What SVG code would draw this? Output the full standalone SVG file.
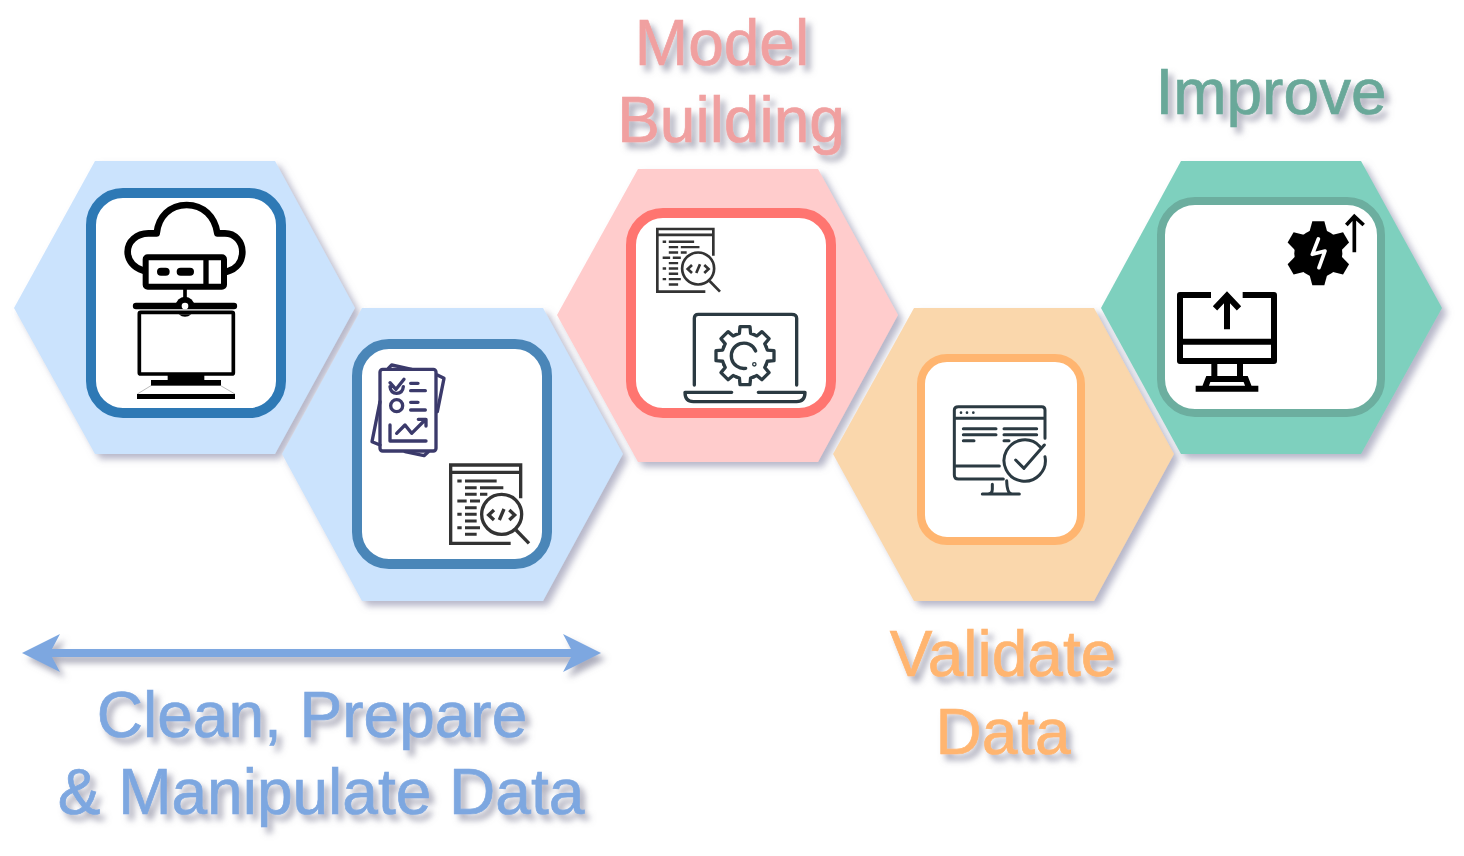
<svg xmlns="http://www.w3.org/2000/svg" xmlns:xlink="http://www.w3.org/1999/xlink" width="1464" height="856" viewBox="0 0 1464 856">
<style>
.hex{filter:url(#hs)}
.card{fill:#fff}
.lbl{font-family:"Liberation Sans",Arial,Helvetica,sans-serif;font-size:64px;text-anchor:middle;filter:url(#ts);stroke-width:.7px}
.ln{fill:none;stroke-linecap:round;stroke-linejoin:round}
.code{fill:none;stroke:#333;stroke-width:9}
</style>
<defs>
<filter id="hs" x="-10%" y="-10%" width="125%" height="125%"><feDropShadow dx="5" dy="5" stdDeviation="3.5" flood-color="#7c7c9c" flood-opacity=".55"/></filter>
<filter id="ts" x="-10%" y="-20%" width="125%" height="150%"><feDropShadow dx="5" dy="6" stdDeviation="3" flood-color="#77778f" flood-opacity=".6"/></filter>
<g id="codeIcon" class="code">
<path d="M482,610H302V375H512V475M302,397H512" stroke-width="10"/>
<path d="M322,423H335M345,423H440M345,443H380M390,443H460M345,463H380M390,463H412M322,483H350M360,483H390M345,503H380M322,523H335M345,523H380M345,543H380M322,563H335M345,563H390M345,583H380"/>
<circle cx="455" cy="523" r="60" fill="#fff" stroke-width="10"/>
<path d="M498,570L537,610" stroke-width="10"/>
<path d="M432,510L416,525L432,540M462,507L448,540M478,510L494,525L478,540" stroke-width="10"/>
</g>
<path id="tooth" d="M-8.8,-21.2L-5.6,-22.3L-5,-29H5L5.6,-22.3L8.8,-21.2"/>
</defs>

<g id="node-clean">
<polygon class="hex" fill="#cbe3fd" points="14,308 95,161 275,161 355,308 275,454 95,454"/>
<rect class="card" x="91" y="193" width="190" height="220" rx="32" stroke="#2e79b5" stroke-width="10"/>
<g transform="translate(80,180) scale(.33333)">
<path class="ln" stroke="#000" stroke-width="20" d="M190,272C160,262 143,240 143,215C143,185 170,160 205,160H230C235,110 270,75 320,75C370,75 405,110 412,160H435C465,160 487,185 487,215C487,245 470,268 440,275"/>
<rect x="197" y="232" width="235" height="88" rx="6" fill="#fff" stroke="#000" stroke-width="18"/>
<path stroke="#000" stroke-width="16" d="M378,232V320"/>
<path class="ln" stroke="#000" stroke-width="24" d="M243,275H257M302,275H330"/>
<path stroke="#000" stroke-width="11" d="M315,320V370"/>
<path d="M287,378A28,28 0 0 1 343,378Z" fill="#000"/>
<path class="ln" stroke="#000" stroke-width="19" d="M168,378H462"/>
<circle cx="315" cy="378" r="10" fill="#fff"/>
<rect x="178" y="397" width="282" height="185" rx="4" fill="#fff" stroke="#000" stroke-width="11"/>
<path d="M296,403Q315,418 334,403Z" fill="#000"/>
<rect x="263" y="582" width="110" height="20"/>
<rect x="213" y="600" width="210" height="17"/>
<path fill="none" stroke="#999" stroke-width="2" d="M213,617L172,642M422,617L465,642"/>
<rect x="171" y="642" width="294" height="15"/>
</g>
</g>

<g id="node-prepare">
<polygon class="hex" fill="#cbe3fd" points="282,454 362,308 543,308 623,454 543,601 362,601"/>
<rect class="card" x="357" y="344" width="190" height="220" rx="32" stroke="#4a86b8" stroke-width="10"/>
<g transform="translate(350,340) scale(.33333)">
<g class="ln" stroke="#3b3a6b" stroke-width="10">
<path d="M115,85L125,75L185,88M262,105L282,115L262,215M90,185L66,305L90,315M165,335L222,347L235,335"/>
<rect x="90" y="88" width="168" height="245" rx="8"/>
<path d="M120,128L138,148L162,118M120,140Q122,160 140,160Q158,160 160,140M182,130H204M182,152H226M182,187H204M182,210H226"/>
<circle cx="140" cy="197" r="18"/>
<path d="M120,255V303H228M140,280L165,255L185,280L225,240M205,238H228V258"/>
</g>
<use href="#codeIcon"/>
</g>
</g>

<g id="node-model">
<polygon class="hex" fill="#ffcccc" points="557,315 638,169 818,169 898,315 818,462 638,462"/>
<rect class="card" x="631" y="213" width="200" height="200" rx="32" stroke="#ff7570" stroke-width="10"/>
<g transform="translate(625,205) scale(.33333)">
<use href="#codeIcon" transform="translate(97,72) scale(.8) translate(-302,-375)"/>
<g class="ln" stroke="#2b3a42" stroke-width="10">
<path d="M208,540V340Q208,328 220,328H500Q515,328 515,340V540"/>
<path d="M320,562H180Q180,590 205,590H515Q540,590 540,562H400"/>
<g transform="translate(360,452) scale(3)" stroke-width="3.3">
<use href="#tooth"/><use href="#tooth" transform="rotate(45)"/><use href="#tooth" transform="rotate(90)"/><use href="#tooth" transform="rotate(135)"/><use href="#tooth" transform="rotate(180)"/><use href="#tooth" transform="rotate(225)"/><use href="#tooth" transform="rotate(270)"/><use href="#tooth" transform="rotate(315)"/>
</g>
<path d="M392,438A38,38 0 1 0 362,490"/>
<circle cx="388" cy="478" r="2"/>
</g>
</g>
</g>

<g id="node-validate">
<polygon class="hex" fill="#fad7ac" points="833,454 914,308 1094,308 1174,454 1094,601 914,601"/>
<rect class="card" x="921" y="358" width="160" height="183" rx="26" stroke="#ffb570" stroke-width="8"/>
<g transform="translate(915,350) scale(.33333)">
<g class="ln" stroke="#2b3a42" stroke-width="9">
<path d="M390,265V180Q390,170 380,170H130Q118,170 118,180V375Q118,387 130,387H265M118,205H390"/>
<path d="M145,236H243M267,236H365M145,254H243M267,254H365M145,272H177M267,272H282M122,348H253"/>
<path d="M375,290A62,62 0 1 0 390,320"/>
<path d="M302,330L327,355L388,285"/>
<path d="M232,403V418Q232,432 218,432M202,432H313M275,392Q276,432 292,432"/>
</g>
<circle cx="138" cy="188" r="4" fill="#2b3a42"/><circle cx="156" cy="188" r="4" fill="#2b3a42"/><circle cx="175" cy="188" r="4" fill="#2b3a42"/>
</g>
</g>

<g id="node-improve">
<polygon class="hex" fill="#7ed0be" points="1101,308 1181,161 1361,161 1442,308 1361,454 1181,454"/>
<rect class="card" x="1161" y="201" width="220" height="212" rx="34" stroke="#6cae9f" stroke-width="8"/>
<g transform="translate(1155,195) scale(.33333)">
<g transform="translate(490,175) scale(3)">
<circle r="24"/>
<path id="cog" d="M-9,-21L-6,-32H6L9,-21Z"/><use href="#cog" transform="rotate(60)"/><use href="#cog" transform="rotate(120)"/><use href="#cog" transform="rotate(180)"/><use href="#cog" transform="rotate(240)"/><use href="#cog" transform="rotate(300)"/>
</g>
<path class="ln" stroke="#fff" stroke-width="11" d="M490,132L472,178L510,168L492,218"/>
<path fill="none" stroke="#000" stroke-width="11" d="M598,172V62M574,90L598,64L626,90"/>
<g fill="none" stroke="#000" stroke-width="18">
<path stroke-linejoin="round" d="M168,300H75V498H357V300H263M75,440H357"/>
<path d="M178,505V550M255,505V550M150,578L160,552H272L282,578M122,581H310"/>
<path d="M216,403V305M180,340L216,302L252,340"/>
</g>
</g>
</g>

<g id="connectors">
<path filter="url(#ts)" fill="#7da7e0" d="M22,653L60,634L52,649H571L563,634L601,653L563,672L571,657H52L60,672Z"/>
</g>

<g id="labels">
<g class="lbl" fill="#f0a0a0" stroke="#f0a0a0"><text x="722" y="65">Model</text><text x="731" y="142">Building</text></g>
<g class="lbl" fill="#69a899" stroke="#69a899"><text x="1271" y="114">Improve</text></g>
<g class="lbl" fill="#ffb570" stroke="#ffb570"><text x="1003" y="676">Validate</text><text x="1003" y="754">Data</text></g>
<g class="lbl" fill="#7da7e0" stroke="#7da7e0"><text x="312" y="737">Clean, Prepare</text><text x="321" y="814">&amp; Manipulate Data</text></g>
</g>
</svg>
